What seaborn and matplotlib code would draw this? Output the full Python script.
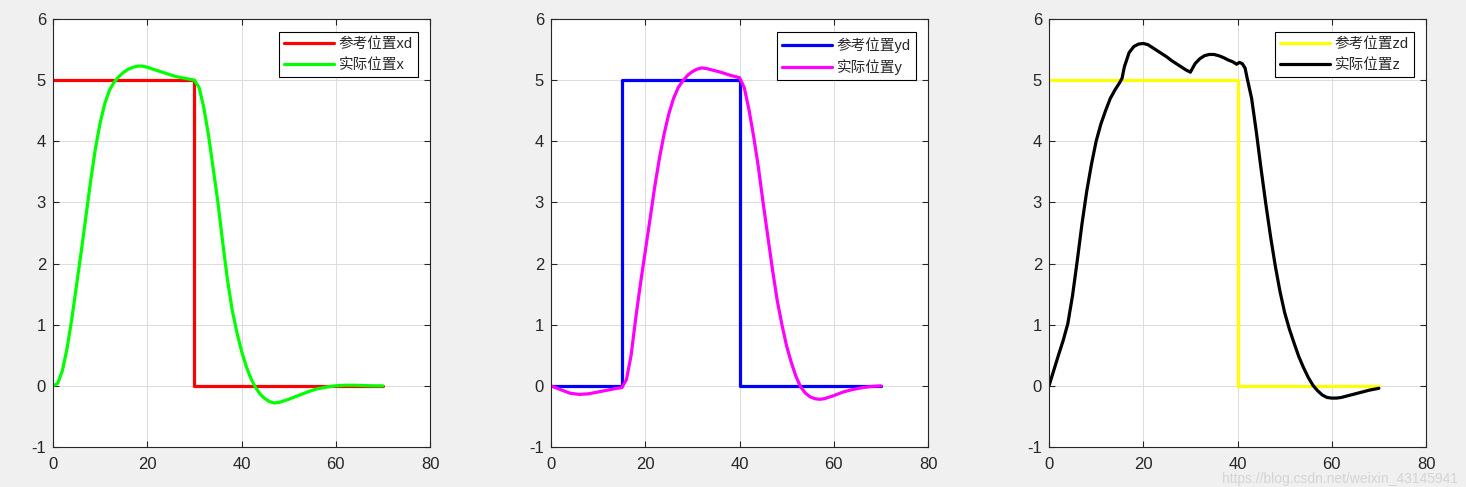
import numpy as np
import pandas as pd
import seaborn as sns
import matplotlib
matplotlib.use("Agg")
import matplotlib.pyplot as plt

# ---------------- data ----------------
# reference (step) signals
t_xd = [0, 30, 30, 70]
xd = [5, 5, 0, 0]
t_yd = [0, 15, 15, 40, 40, 70]
yd = [0, 0, 5, 5, 0, 0]
t_zd = [0, 40, 40, 70]
zd = [5, 5, 0, 0]

# actual x
t_x = [0, 1, 2, 3, 4, 5, 6, 7, 8, 9, 10, 11, 12, 13, 14, 15, 16, 17, 18, 19, 20,
       22, 24, 26, 28, 30, 31, 32, 33, 34, 35, 36, 37, 38, 39, 40, 41, 42, 43, 44,
       45, 46, 47, 48, 50, 52, 54, 56, 58, 60, 62, 64, 66, 68, 70]
x_act = [0, 0.04, 0.25, 0.62, 1.1, 1.65, 2.2, 2.78, 3.36, 3.88, 4.3,
         4.62, 4.84, 4.97, 5.06, 5.13, 5.18, 5.21, 5.23, 5.23, 5.21,
         5.16, 5.11, 5.06, 5.03, 5.0,
         4.88, 4.55, 4.1, 3.55, 3.0, 2.35, 1.75, 1.25, 0.88, 0.57, 0.32, 0.12, -0.03,
         -0.14, -0.21, -0.26, -0.28, -0.27,
         -0.22, -0.16, -0.1, -0.05, -0.02, 0.0, 0.01, 0.01, 0.005, 0.0, 0.0]

# actual y
t_y = [0, 2, 4, 6, 8, 10, 12, 14, 15, 16, 17, 18, 19, 20, 21, 22, 23, 24, 25, 26,
       27, 28, 29, 30, 31, 32, 33, 34, 36, 38, 40, 41, 42, 43, 44, 45, 46, 47, 48,
       49, 50, 51, 52, 53, 54, 55, 56, 57, 58, 60, 62, 64, 66, 68, 70]
y_act = [0, -0.06, -0.12, -0.14, -0.13, -0.1, -0.07, -0.04,
         -0.03, 0.1, 0.5, 1.12, 1.68, 2.2, 2.72, 3.25, 3.72, 4.12, 4.45, 4.7, 4.88,
         4.99, 5.08, 5.14, 5.18, 5.2, 5.19, 5.17,
         5.13, 5.08, 5.04,
         4.88, 4.52, 4.08, 3.58, 3.0, 2.45, 1.9, 1.4, 1.0, 0.65, 0.38, 0.15, -0.02,
         -0.12, -0.18, -0.21, -0.22, -0.21,
         -0.16, -0.1, -0.06, -0.03, -0.01, 0.0]

# actual z
t_z = [0, 1, 2, 3, 4, 5, 6, 7, 8, 9, 10, 11, 12, 13, 14, 15, 15.5, 16, 17, 18, 19,
       20, 21, 22, 23, 24, 25, 26, 27, 28, 29, 30, 30.5, 31, 32, 33, 34, 35, 36, 37,
       38, 39, 39.8, 40.4, 41, 41.6, 42, 43, 44, 45, 46, 47, 48, 49, 50, 51, 52, 53,
       54, 55, 56, 57, 58, 59, 60, 61, 62, 64, 66, 68, 70]
z_act = [0, 0.25, 0.5, 0.74, 1.02, 1.48, 2.05, 2.65, 3.18, 3.62, 4.0, 4.28, 4.5,
         4.7, 4.84, 4.96, 5.03, 5.22, 5.45, 5.55, 5.59,
         5.6, 5.58, 5.53, 5.48, 5.43, 5.38, 5.32, 5.27, 5.22, 5.17, 5.13, 5.2, 5.27,
         5.35, 5.4, 5.42, 5.42, 5.4, 5.37,
         5.33, 5.3, 5.26, 5.29, 5.27, 5.2, 5.05, 4.7, 4.15, 3.55, 2.98, 2.45, 1.97,
         1.55, 1.2, 0.93, 0.7, 0.48,
         0.3, 0.14, 0.01, -0.08, -0.15, -0.19, -0.2, -0.2, -0.19, -0.15, -0.11,
         -0.07, -0.04]

labels_ref = ["参考位置xd", "参考位置yd", "参考位置zd"]
labels_act = ["实际位置x", "实际位置y", "实际位置z"]
colors_ref = ["#ff0000", "#0000ff", "#ffff00"]
colors_act = ["#00ff00", "#ff00ff", "#000000"]
x_ticks = [0, 20, 40, 60, 80]
y_ticks = [-1, 0, 1, 2, 3, 4, 5, 6]

# ---------------- style ----------------
sns.set_style("ticks")
plt.rcParams['font.family'] = ['Liberation Sans', 'Noto Sans CJK SC', 'DejaVu Sans']
plt.rcParams['axes.unicode_minus'] = False

fig = plt.figure(figsize=(14.66, 4.87), dpi=100, facecolor="#f0f0f0")

W = 1466.0
H = 487.0
lefts = [53, 551, 1049]
aw = 377
top_px, bot_px = 19, 447

refs = [(t_xd, xd), (t_yd, yd), (t_zd, zd)]
acts = [(t_x, x_act), (t_y, y_act), (t_z, z_act)]

for i in range(3):
    ax = fig.add_axes([lefts[i] / W, (H - bot_px) / H, aw / W, (bot_px - top_px) / H])
    ax.set_facecolor("white")
    df_r = pd.DataFrame({"t": refs[i][0], "v": refs[i][1]})
    df_a = pd.DataFrame({"t": acts[i][0], "v": acts[i][1]})
    sns.lineplot(data=df_r, x="t", y="v", ax=ax, color=colors_ref[i], linewidth=2.3,
                 estimator=None, sort=False, label=labels_ref[i])
    sns.lineplot(data=df_a, x="t", y="v", ax=ax, color=colors_act[i], linewidth=2.3,
                 estimator=None, sort=False, label=labels_act[i])
    ax.set_xlim(0, 80)
    ax.set_ylim(-1, 6)
    ax.set_xticks(x_ticks)
    ax.set_yticks(y_ticks)
    ax.set_xlabel("")
    ax.set_ylabel("")
    ax.grid(True, color="#dcdcdc", linewidth=0.7)
    ax.set_axisbelow(True)
    for s in ax.spines.values():
        s.set_visible(True)
        s.set_color("#262626")
        s.set_linewidth(0.8)
    ax.tick_params(direction="in", length=4, width=0.8, colors="#262626",
                   labelsize=12, top=True, right=True, labelcolor="#262626")
    ax.tick_params(axis="x", pad=7)
    ax.tick_params(axis="y", pad=5)
    leg = ax.legend(loc="upper right",
                    bbox_to_anchor=(1 - 12 / aw, 1 - 13 / (bot_px - top_px)),
                    borderaxespad=0, fontsize=10.5, handlelength=3.4,
                    handletextpad=0.35, labelspacing=0.45, borderpad=0.35,
                    fancybox=False, framealpha=1, edgecolor="#000000")
    leg.get_frame().set_linewidth(0.8)
    for txt in leg.get_texts():
        txt.set_color("#262626")

fig.text(1458 / W, 1 - 479 / H, "https://blog.csdn.net/weixin_43145941",
         ha="right", va="center", fontsize=10, color="#d4d4d4")

fig.savefig("out.png", dpi=100, facecolor=fig.get_facecolor())
